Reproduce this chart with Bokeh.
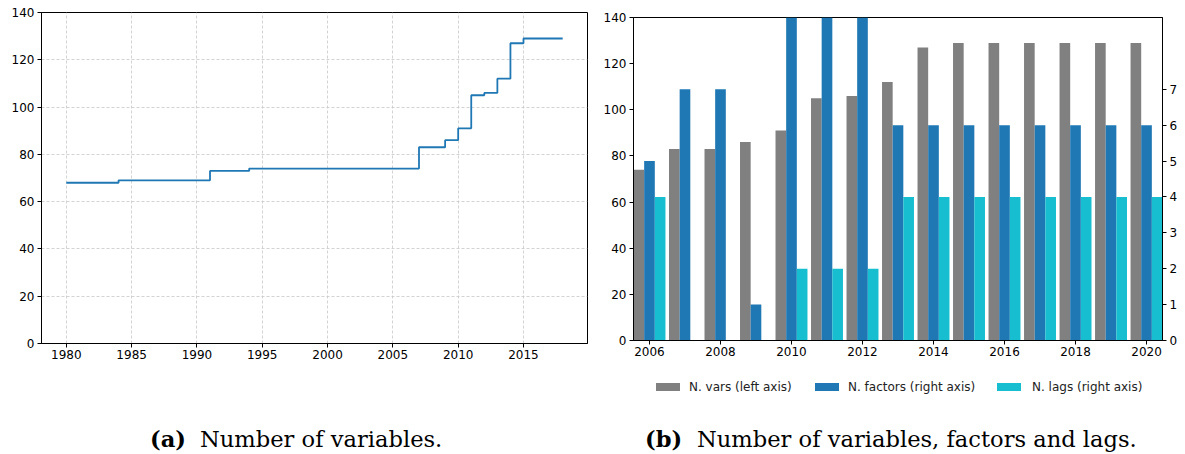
from bokeh.plotting import figure
from bokeh.models import ColumnDataSource, Range1d, LinearAxis, FixedTicker, Div
from bokeh.layouts import row, column
from bokeh.transform import dodge
from bokeh.embed import file_html
from bokeh.resources import INLINE

# ---------------- data ----------------
# (a) number of variables over time (step, post)
years_a = [1980, 1984, 1991, 1994, 2007, 2009, 2010, 2011, 2012, 2013, 2014, 2015, 2018]
n_vars_a = [68, 69, 73, 74, 83, 86, 91, 105, 106, 112, 127, 129, 129]
ticks_a_x = [1980, 1985, 1990, 1995, 2000, 2005, 2010, 2015]
ticks_a_y = [0, 20, 40, 60, 80, 100, 120, 140]

# (b) variables, factors and lags per year
years_b = [2006, 2007, 2008, 2009, 2010, 2011, 2012, 2013, 2014, 2015, 2016, 2017, 2018, 2019, 2020]
n_vars = [74, 83, 83, 86, 91, 105, 106, 112, 127, 129, 129, 129, 129, 129, 129]
n_factors = [5, 7, 7, 1, 10, 10, 10, 6, 6, 6, 6, 6, 6, 6, 6]
n_lags = [4, 0, 0, 0, 2, 2, 2, 4, 4, 4, 4, 4, 4, 4, 4]
ticks_b_x = [2006, 2008, 2010, 2012, 2014, 2016, 2018, 2020]
ticks_b_left = [0, 20, 40, 60, 80, 100, 120, 140]
ticks_b_right = [0, 1, 2, 3, 4, 5, 6, 7]

legend_labels = ["N. vars (left axis)", "N. factors (right axis)", "N. lags (right axis)"]
caption_a = ("(a)", "Number of variables.")
caption_b = ("(b)", "Number of variables, factors and lags.")

FONT = "DejaVu Sans"
SERIF = "DejaVu Serif"
GREY = "#808080"
BLUE = "#1f77b4"
CYAN = "#17becf"
legend_colors = [GREY, BLUE, CYAN]


def style_axis(ax, standoff, tick_out=4):
    ax.axis_line_color = "black"
    ax.axis_line_width = 1
    ax.major_tick_line_color = "black"
    ax.major_tick_out = tick_out
    ax.major_tick_in = 0
    ax.minor_tick_out = 0
    ax.minor_tick_in = 0
    ax.major_label_text_font = FONT
    ax.major_label_text_font_size = "12px"
    ax.major_label_text_color = "black"
    ax.major_label_standoff = standoff


# ---------------- panel (a) ----------------
p1 = figure(frame_width=546, frame_height=331,
            x_range=Range1d(1978.1, 2019.9), y_range=Range1d(0, 140),
            output_backend="svg", toolbar_location=None,
            min_border_left=41, min_border_right=13, min_border_top=12, min_border_bottom=57)
p1.outline_line_color = "black"
p1.outline_line_width = 1
p1.background_fill_color = "white"
p1.border_fill_color = "white"
p1.xaxis.ticker = FixedTicker(ticks=ticks_a_x)
p1.yaxis.ticker = FixedTicker(ticks=ticks_a_y)
style_axis(p1.xaxis[0], 2)
style_axis(p1.yaxis[0], 3)
for g in (p1.xgrid[0], p1.ygrid[0]):
    g.grid_line_color = "#c8c8c8"
    g.grid_line_width = 0.8
    g.grid_line_dash = "3 2"
p1.step(x=years_a, y=n_vars_a, mode="after", line_color=BLUE, line_width=1.8)

# ---------------- panel (b) ----------------
src = ColumnDataSource(dict(year=years_b, vars=n_vars, factors=n_factors, lags=n_lags))

p2 = figure(frame_width=529, frame_height=323,
            x_range=Range1d(2005.55, 2020.45), y_range=Range1d(0, 140),
            output_backend="svg", toolbar_location=None,
            min_border_left=33, min_border_right=23, min_border_top=17, min_border_bottom=25)
p2.outline_line_color = "black"
p2.outline_line_width = 1
p2.background_fill_color = "white"
p2.border_fill_color = "white"
p2.xgrid.visible = False
p2.ygrid.visible = False
p2.extra_y_ranges = {"right": Range1d(0, 9)}
p2.xaxis.ticker = FixedTicker(ticks=ticks_b_x)
p2.yaxis.ticker = FixedTicker(ticks=ticks_b_left)
style_axis(p2.xaxis[0], 2)
style_axis(p2.yaxis[0], 3)
rax = LinearAxis(y_range_name="right", ticker=FixedTicker(ticks=ticks_b_right))
style_axis(rax, 3)
p2.add_layout(rax, "right")

p2.vbar(x=dodge("year", -0.3, range=p2.x_range), top="vars", width=0.3, source=src,
        fill_color=GREY, line_color=None)
p2.vbar(x=dodge("year", 0.0, range=p2.x_range), top="factors", width=0.3, source=src,
        fill_color=BLUE, line_color=None, y_range_name="right")
p2.vbar(x=dodge("year", 0.3, range=p2.x_range), top="lags", width=0.3, source=src,
        fill_color=CYAN, line_color=None, y_range_name="right")

# ---------------- legend (HTML, below panel b) ----------------
box_left = [56, 215, 397]
text_left = [89, 248, 432]
parts = []
for lab, col, bx, tx in zip(legend_labels, legend_colors, box_left, text_left):
    parts.append('<span style="position:absolute; left:%dpx; top:18px; width:24px; height:8px; '
                 'background:%s;"></span>' % (bx, col))
    parts.append('<span style="position:absolute; left:%dpx; top:15px; line-height:14px; '
                 'font-family:\'%s\'; font-size:12px; color:#222; white-space:nowrap;">%s</span>'
                 % (tx, FONT, lab))
legend_div = Div(text='<div style="position:relative; width:585px; height:35px;">%s</div>'
                 % "".join(parts), width=585, height=35, margin=0)


def caption(parts_, width, x_bold, x_text):
    html = ('<div style="position:relative; width:%dpx; height:54px; font-family:\'%s\'; '
            'font-size:22.6px; line-height:27px; color:#000; white-space:nowrap;">'
            '<span style="position:absolute; left:%dpx; top:26px; font-weight:bold;">%s</span>'
            '<span style="position:absolute; left:%dpx; top:26px;">%s</span></div>'
            % (width, SERIF, x_bold, parts_[0], x_text, parts_[1]))
    return Div(text=html, width=width, height=54, margin=0)


cap_a = caption(caption_a, 600, 150, 200)
cap_b = caption(caption_b, 585, 45, 97)

layout = row(column(p1, cap_a), column(p2, legend_div, cap_b))

open("out.html", "w").write(file_html(layout, INLINE))
